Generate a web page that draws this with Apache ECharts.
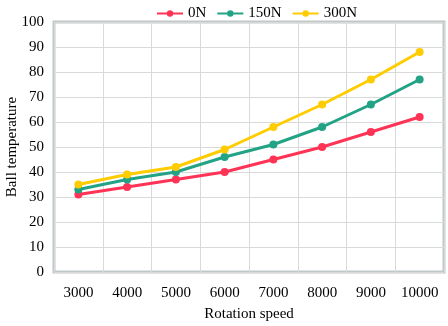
<!DOCTYPE html>
<html>
<head>
<meta charset="utf-8">
<script src="https://cdn.jsdelivr.net/npm/echarts@6/dist/echarts.min.js"></script>
<style>
  html, body { margin: 0; padding: 0; background: #fff; }
  #chart { width: 448px; height: 326px; }
</style>
</head>
<body>
<div id="chart"></div>
<script>
const speeds = ["3000", "4000", "5000", "6000", "7000", "8000", "9000", "10000"]
const load0 = [31, 34, 37, 40, 45, 50, 56, 62]
const load150 = [33, 37, 40, 46, 51, 58, 67, 77]
const load300 = [35, 39, 42, 49, 58, 67, 77, 88]

const font = "Liberation Serif, Times New Roman, serif"

const mkSeries = (name, data, color) => ({
    name: name,
    type: "line",
    data: data,
    symbol: "circle",
    symbolSize: 8,
    lineStyle: { width: 3, color: color },
    itemStyle: { color: color },
    emphasis: { disabled: true }
})

const chart = echarts.init(document.getElementById("chart"))
chart.setOption({
    animation: false,
    color: ["#ff3355", "#22a386", "#ffcc00"],
    textStyle: { fontFamily: font },
    legend: {
        top: 1,
        left: 151,
        itemWidth: 26,
        itemHeight: 8,
        itemGap: 10,
        textStyle: { fontFamily: font, fontSize: 15, color: "#000" },
        data: ["0N", "150N", "300N"]
    },
    grid: {
        left: 54,
        right: 4,
        top: 22,
        bottom: 54,
        outerBoundsMode: "none",
        containLabel: false,
        show: true,
        borderColor: "#bfc8c8",
        borderWidth: 3
    },
    xAxis: {
        type: "category",
        data: speeds,
        boundaryGap: true,
        name: "Rotation speed",
        nameLocation: "middle",
        nameGap: 35,
        nameMoveOverlap: false,
        nameTextStyle: { fontFamily: font, fontSize: 15, color: "#000" },
        axisLine: { show: false },
        axisTick: { show: false },
        axisLabel: { fontFamily: font, fontSize: 15, color: "#000", margin: 14, interval: 0 },
        splitLine: { show: true, interval: 0, lineStyle: { color: "#d9d9d9", width: 1 } }
    },
    yAxis: {
        type: "value",
        min: 0,
        max: 100,
        interval: 10,
        name: "Ball temperature",
        nameLocation: "middle",
        nameGap: 34,
        nameMoveOverlap: false,
        nameTextStyle: { fontFamily: font, fontSize: 15, color: "#000" },
        axisLine: { show: false },
        axisTick: { show: false },
        axisLabel: { fontFamily: font, fontSize: 15, color: "#000", margin: 10 },
        splitLine: { show: true, lineStyle: { color: "#d9d9d9", width: 1 } }
    },
    series: [
        mkSeries("0N", load0, "#ff3355"),
        mkSeries("150N", load150, "#22a386"),
        mkSeries("300N", load300, "#ffcc00")
    ]
})
</script>
</body>
</html>
